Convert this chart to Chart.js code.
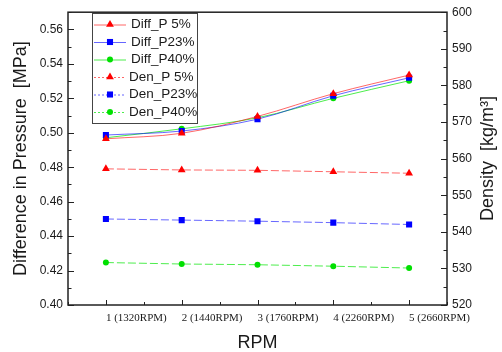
<!DOCTYPE html>
<html>
<head>
<meta charset="utf-8">
<script src="https://cdn.jsdelivr.net/npm/chart.js@4/dist/chart.umd.min.js"></script>
<style>
  html, body { margin: 0; padding: 0; background: #fff; }
  #chart { display: block; }
</style>
</head>
<body>
<canvas id="chart" width="502" height="352"></canvas>
<script>
// x positions (run number) and their tick labels
const runs = [1, 2, 3, 4, 5];
const runLabels = ["1 (1320RPM)", "2 (1440RPM)", "3 (1760RPM)", "4 (2260RPM)", "5 (2660RPM)"];

// difference in pressure [MPa]
const diffP5 = [0.4965, 0.4997, 0.5095, 0.5227, 0.5335];
const diffP23 = [0.4987, 0.5010, 0.5079, 0.5215, 0.5319];
const diffP40 = [0.4971, 0.5023, 0.5087, 0.5200, 0.5302];

// density [kg/m3]
const denP5 = [557.2, 556.9, 556.8, 556.4, 556.0];
const denP23 = [543.5, 543.2, 542.9, 542.5, 542.0];
const denP40 = [531.6, 531.2, 531.0, 530.6, 530.1];

const RED = "#ff0000", BLUE = "#0000ff", GREEN = "#00e000";
const RED_L = "rgba(255,0,0,0.6)", BLUE_L = "rgba(0,0,255,0.6)", GREEN_L = "rgba(0,230,0,0.7)";

const pts = (vals) => runs.map((r, i) => ({ x: r, y: vals[i] }));

function diffSet(label, vals, color, line, style, radius) {
  return {
    label, data: pts(vals), yAxisID: "y",
    borderColor: line, borderWidth: 1,
    pointStyle: style, pointRadius: radius,
    pointBackgroundColor: color, pointBorderColor: color, pointBorderWidth: 0,
    cubicInterpolationMode: "monotone",
    legendDash: [],
  };
}

function denSet(label, vals, color, line, style, radius) {
  return {
    label, data: pts(vals), yAxisID: "y2",
    borderColor: line, borderWidth: 1, borderDash: [8, 3],
    pointStyle: style, pointRadius: radius,
    pointBackgroundColor: color, pointBorderColor: color, pointBorderWidth: 0,
    legendDash: [2, 2],
  };
}

const datasets = [
  diffSet("Diff_P 5%", diffP5, RED, RED_L, "triangle", 4.5),
  diffSet("Diff_P23%", diffP23, BLUE, BLUE_L, "rect", 4.3),
  diffSet("Diff_P40%", diffP40, GREEN, GREEN_L, "circle", 3),
  denSet("Den_P 5%", denP5, RED, RED_L, "triangle", 4.5),
  denSet("Den_P23%", denP23, BLUE, BLUE_L, "rect", 4.3),
  denSet("Den_P40%", denP40, GREEN, GREEN_L, "circle", 3),
];

const SANS = "'Liberation Sans', Arial, sans-serif";
const TXT = "#1a1a1a";

// frame, inward ticks, boxed legend and right-hand title
const decor = {
  id: "decor",
  afterDraw(chart) {
    const { ctx, chartArea: a, scales } = chart;
    ctx.save();
    ctx.strokeStyle = "#222";
    ctx.lineWidth = 1;

    // ticks
    ctx.beginPath();
    for (let k = 0; k <= 17; k++) {
      const y = Math.round(scales.y.getPixelForValue(0.40 + k * 0.01)) + 0.5;
      const len = k % 2 === 0 ? 6 : 3.5;
      ctx.moveTo(a.left, y); ctx.lineTo(a.left + len, y);
    }
    for (let k = 0; k <= 16; k++) {
      const y = Math.round(scales.y2.getPixelForValue(520 + k * 5)) + 0.5;
      const len = k % 2 === 0 ? 6 : 3.5;
      ctx.moveTo(a.right, y); ctx.lineTo(a.right - len, y);
    }
    for (let k = 0; k <= 10; k++) {
      const x = Math.round(scales.x.getPixelForValue(0.5 + k * 0.5)) + 0.5;
      const len = k % 2 === 1 ? 5 : 3;
      ctx.moveTo(x, a.bottom); ctx.lineTo(x, a.bottom - len);
    }
    ctx.stroke();

    // frame
    ctx.lineWidth = 1.5;
    ctx.strokeRect(a.left, a.top, a.right - a.left, a.bottom - a.top);

    // legend
    const lx = 92, ly = 13, lw = 105, lh = 110;
    ctx.fillStyle = "#fff";
    ctx.fillRect(lx, ly, lw, lh);
    ctx.lineWidth = 1;
    ctx.strokeStyle = "#444";
    ctx.strokeRect(lx + 0.5, ly + 0.5, lw, lh);
    ctx.font = "13.5px " + SANS;
    ctx.textBaseline = "middle";
    chart.data.datasets.forEach((ds, i) => {
      const y = ly + 11.5 + i * 17.5;
      ctx.strokeStyle = ds.borderColor;
      ctx.setLineDash(ds.legendDash);
      ctx.beginPath();
      ctx.moveTo(lx + 2, y + 0.5); ctx.lineTo(lx + 34, y + 0.5);
      ctx.stroke();
      ctx.setLineDash([]);
      ctx.fillStyle = ds.pointBackgroundColor;
      Chart.helpers.drawPoint(ctx, { pointStyle: ds.pointStyle, radius: ds.pointRadius, borderWidth: 0 }, lx + 18, y);
      ctx.fillStyle = TXT;
      ctx.fillText(ds.label, lx + (i < 3 ? 39 : 37), y);
    });

    // right axis title
    ctx.translate(488, (a.top + a.bottom) / 2);
    ctx.rotate(-Math.PI / 2);
    ctx.font = "18px " + SANS;
    ctx.textAlign = "center";
    ctx.textBaseline = "middle";
    ctx.fillStyle = TXT;
    ctx.fillText("Density  [kg/m\u00b3]", 0, 0);
    ctx.restore();
  },
};

new Chart(document.getElementById("chart"), {
  type: "line",
  data: { datasets },
  plugins: [decor],
  options: {
    responsive: false,
    animation: false,
    layout: { padding: { top: 10, right: 0, left: 0, bottom: 0 } },
    plugins: { legend: { display: false }, tooltip: { enabled: false } },
    scales: {
      x: {
        type: "linear", min: 0.5, max: 5.5,
        grid: { display: false, drawTicks: false },
        border: { display: false },
        ticks: {
          stepSize: 0.5, autoSkip: false, maxRotation: 0, align: "start",
          padding: 7, color: TXT,
          font: { family: "'Liberation Serif', 'Times New Roman', serif", size: 11 },
          callback: (v) => (Number.isInteger(v) ? runLabels[v - 1] : ""),
        },
        title: { display: true, text: "RPM", color: TXT, padding: 0, font: { family: SANS, size: 18, lineHeight: 1 } },
        afterFit: (s) => { s.height = 47; },
      },
      y: {
        position: "left", min: 0.40, max: 0.57,
        grid: { display: false, drawTicks: false },
        border: { display: false },
        ticks: {
          stepSize: 0.02, includeBounds: false, padding: 5, color: TXT,
          font: { family: SANS, size: 12 },
          callback: (v) => v.toFixed(2),
        },
        title: { display: true, text: "Difference in Pressure  [MPa]", color: TXT, padding: 10, font: { family: SANS, size: 18 } },
        afterFit: (s) => { s.width = 68; },
      },
      y2: {
        position: "right", min: 520, max: 600,
        grid: { display: false, drawTicks: false },
        border: { display: false },
        ticks: { stepSize: 10, padding: 5, color: TXT, font: { family: SANS, size: 12 } },
        afterFit: (s) => { s.width = 55; },
      },
    },
  },
});
</script>
</body>
</html>
